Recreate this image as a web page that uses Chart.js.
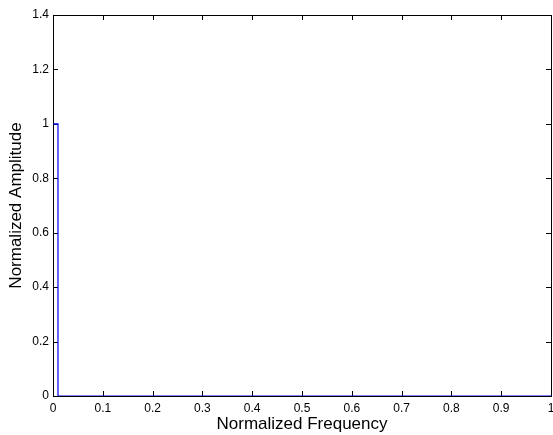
<!DOCTYPE html>
<html>
<head>
<meta charset="utf-8">
<script src="https://cdn.jsdelivr.net/npm/chart.js@4/dist/chart.umd.min.js"></script>
<style>
  html, body { margin: 0; padding: 0; background: #fff; }
  #wrap { width: 553px; height: 435px; position: relative; }
</style>
</head>
<body>
<div id="wrap"><canvas id="chart"></canvas></div>
<script>
// Spectrum values
const freqs = [0, 0.01, 0.01, 1];
const amps = [1, 1, 0, 0];

const xTicks = [0, 0.1, 0.2, 0.3, 0.4, 0.5, 0.6, 0.7, 0.8, 0.9, 1];
const yTicks = [0, 0.2, 0.4, 0.6, 0.8, 1, 1.2, 1.4];

const points = freqs.map((f, i) => ({ x: f, y: amps[i] }));

// MATLAB style box with inward ticks on all four sides
const boxPlugin = {
    id: 'matlabBox',
    beforeDatasetsDraw(chart) {
        const { ctx, chartArea: a, scales } = chart;
        const len = 5;
        ctx.save();
        ctx.strokeStyle = '#000';
        ctx.lineWidth = 1;
        ctx.beginPath();
        xTicks.forEach(v => {
            const px = Math.round(scales.x.getPixelForValue(v)) + 0.5;
            ctx.moveTo(px, a.bottom);
            ctx.lineTo(px, a.bottom - len);
            ctx.moveTo(px, a.top);
            ctx.lineTo(px, a.top + len);
        });
        yTicks.forEach(v => {
            const py = Math.round(scales.y.getPixelForValue(v)) + 0.5;
            ctx.moveTo(a.left, py);
            ctx.lineTo(a.left + len, py);
            ctx.moveTo(a.right, py);
            ctx.lineTo(a.right - len, py);
        });
        ctx.stroke();
        ctx.strokeRect(Math.round(a.left) + 0.5, Math.round(a.top) + 0.5,
            Math.round(a.right - a.left), Math.round(a.bottom - a.top));
        ctx.restore();
    }
};

const fmt = v => String(Number(v.toFixed(1)));

new Chart(document.getElementById('chart'), {
    type: 'line',
    data: {
        datasets: [{
            data: points,
            borderColor: '#0000ff',
            borderWidth: 1.2,
            pointRadius: 0,
            fill: false,
            tension: 0
        }]
    },
    options: {
        responsive: true,
        maintainAspectRatio: false,
        animation: false,
        layout: { padding: { top: 15, right: 2, left: 0, bottom: 0 } },
        plugins: { legend: { display: false }, tooltip: { enabled: false } },
        scales: {
            x: {
                type: 'linear',
                min: 0,
                max: 1,
                afterFit: s => { s.height = 39; s.paddingLeft = 0; s.paddingRight = 0; },
                afterBuildTicks: s => { s.ticks = xTicks.map(v => ({ value: v })); },
                grid: { display: false, drawTicks: false },
                border: { display: false },
                ticks: {
                    color: '#000',
                    padding: 5,
                    maxRotation: 0,
                    autoSkip: false,
                    font: { family: 'Liberation Sans', size: 12 },
                    callback: v => fmt(v)
                },
                title: {
                    display: true,
                    text: 'Normalized Frequency',
                    color: '#000',
                    padding: { top: 0, bottom: 0 },
                    font: { family: 'Liberation Sans', size: 17 }
                }
            },
            y: {
                type: 'linear',
                min: 0,
                max: 1.4,
                afterFit: s => { s.width = 53; s.paddingTop = 0; s.paddingBottom = 0; },
                afterBuildTicks: s => { s.ticks = yTicks.map(v => ({ value: v })); },
                grid: { display: false, drawTicks: false },
                border: { display: false },
                ticks: {
                    color: '#000',
                    padding: 4,
                    autoSkip: false,
                    font: { family: 'Liberation Sans', size: 12 },
                    callback: v => fmt(v)
                },
                title: {
                    display: true,
                    text: 'Normalized Amplitude',
                    color: '#000',
                    padding: { top: 6, bottom: 0 },
                    font: { family: 'Liberation Sans', size: 17 }
                }
            }
        }
    },
    plugins: [boxPlugin]
});
</script>
</body>
</html>
